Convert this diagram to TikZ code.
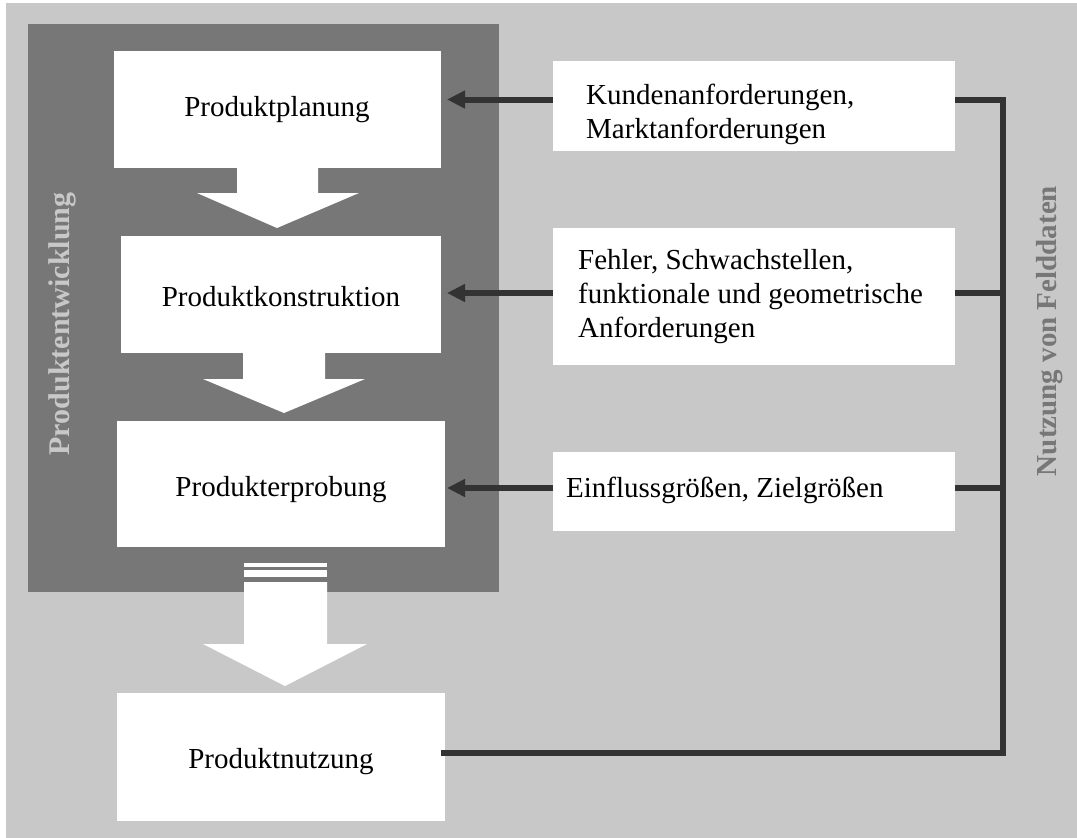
\documentclass[tikz,border=0pt]{standalone}
\usepackage{fontspec}
\setmainfont{Liberation Serif}
\usetikzlibrary{arrows.meta}
\definecolor{bgray}{HTML}{C8C8C8}
\definecolor{dgray}{HTML}{777777}
\definecolor{lgray}{HTML}{333333}
\begin{document}
\begin{tikzpicture}[x=1pt,y=-1pt,
  txt/.style={font=\fontsize{29}{34}\selectfont, inner sep=0pt},
  stagebox/.style={fill=white, draw=none},
  infobox/.style={fill=white, draw=none},
  feed/.style={draw=lgray, line width=6pt},
  feedarrow/.style={feed, -{Triangle[length=18pt,width=17pt]}, shorten >=-3pt},
  blockarrow/.style={fill=white, draw=none}]
\useasboundingbox (0,0) rectangle (1077,838);
\fill[white] (0,0) rectangle (1077,838);
\fill[bgray] (6,3) rectangle (1077,838);
% development frame
\fill[dgray] (28,24) rectangle (499,592);
\node[rotate=90, font=\bfseries\fontsize{30}{34}\selectfont, text=bgray] (devlabel) at (62,324) {Produktentwicklung};
% stage boxes
\path[stagebox] (114,51) rectangle (441,168);
\path[stagebox] (121,236) rectangle (441,353);
\path[stagebox] (117,421) rectangle (445,547);
\path[stagebox] (117,693) rectangle (445,821);
\node[txt] (plan) at (277,110) {Produktplanung};
\node[txt] (kons) at (281,297) {Produktkonstruktion};
\node[txt] (erpr) at (281,490) {Produkterprobung};
\node[txt] (nutz) at (281,762) {Produktnutzung};
\coordinate (planE) at (441,99.5);
\coordinate (konsE) at (441,293);
\coordinate (erprE) at (445,488);
\coordinate (nutzE) at (441,753);
% block arrows between stages
\fill[blockarrow] (237,168) -- (318,168) -- (318,193) -- (359,193) -- (277,228) -- (197,193) -- (237,193) -- cycle;
\fill[blockarrow] (243,353) -- (325,353) -- (325,379) -- (365,379) -- (284,413) -- (203,379) -- (243,379) -- cycle;
\fill[blockarrow] (244,563) rectangle (327,567);
\fill[blockarrow] (244,570) rectangle (327,577);
\fill[blockarrow] (244,582) -- (327,582) -- (327,644) -- (367,644) -- (285,686) -- (203,644) -- (244,644) -- cycle;
% information boxes
\path[infobox] (553,61) rectangle (955,151);
\path[infobox] (553,228) rectangle (955,365);
\path[infobox] (553,452) rectangle (955,531);
\node[txt, anchor=west, align=left] (kunden) at (586,114) {Kundenanforderungen,\\Marktanforderungen};
\node[txt, anchor=west, align=left] (fehler) at (578,297) {Fehler, Schwachstellen,\\funktionale und geometrische\\Anforderungen};
\node[txt, anchor=west, align=left] (einfl) at (566,490) {Einflussgrößen, Zielgrößen};
\coordinate (kundenW) at (553,99.5);
\coordinate (kundenE) at (955,99.5);
\coordinate (fehlerW) at (553,293);
\coordinate (fehlerE) at (955,293);
\coordinate (einflW) at (553,488);
\coordinate (einflE) at (955,488);
% field data feedback bus
\coordinate (busTop) at (1003,99.5);
\coordinate (busBot) at (1003,753);
\draw[feed] (nutzE) -- (busBot) -- (busTop) -- (kundenE);
\draw[feed] (fehlerE) -- (fehlerE -| busTop);
\draw[feed] (einflE) -- (einflE -| busTop);
\draw[feedarrow, shorten >=-4pt] (kundenW) -- ([xshift=10pt]planE);
\draw[feedarrow, shorten >=-4pt] (fehlerW) -- ([xshift=10pt]konsE);
\draw[feedarrow, shorten >=-4pt] (einflW) -- ([xshift=6pt]erprE);
\node[rotate=90, font=\bfseries\fontsize{29}{34}\selectfont, text=dgray] (fieldlabel) at (1050,331) {Nutzung von Felddaten};
\end{tikzpicture}
\end{document}
